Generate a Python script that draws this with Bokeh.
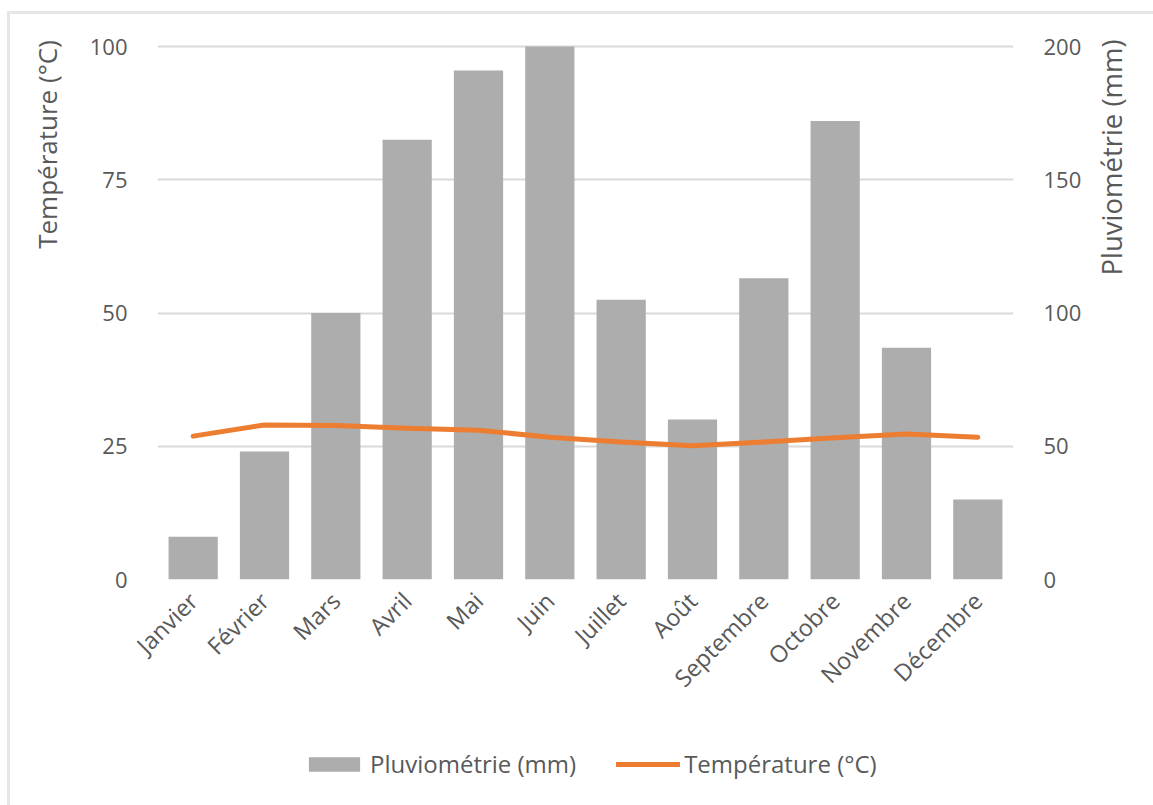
import math
from bokeh.plotting import figure
from bokeh.layouts import row, column
from bokeh.models import (ColumnDataSource, FactorRange, Range1d, LinearAxis,
                          FixedTicker, Legend, LegendItem)
from bokeh.core.properties import value
from bokeh.embed import file_html
from bokeh.resources import INLINE

# Monthly climate normals
months = ["Janvier", "Février", "Mars", "Avril", "Mai", "Juin", "Juillet",
          "Août", "Septembre", "Octobre", "Novembre", "Décembre"]
rain_mm = [16, 48, 100, 165, 191, 200, 105, 60, 113, 172, 87, 30]
temp_c = [26.9, 29.0, 28.9, 28.4, 28.0, 26.7, 25.8, 25.1, 25.8, 26.6, 27.3, 26.7]
temp_ticks = [0, 25, 50, 75, 100]
rain_ticks = [0, 50, 100, 150, 200]
temp_title = "Température (°C)"
rain_title = "Pluviométrie (mm)"

FONT = "Open Sans"
TEXT = "#595959"
GRID = "#D9D9D9"
BAR = "#ADADAD"
LINE = "#ED7D31"

MAIN_W, MAIN_H = 1020, 716
SIDE_L, SIDE_R = 60, 63
LEG_H = 75
BOTTOM = 151                 # room for the slanted month names
FRAME_H = MAIN_H - BOTTOM    # plot frame runs to the very top of the figure
HEADROOM = FRAME_H / (FRAME_H - 32)   # blank band above the top gridline


def blank(width, height, x_range=None, y_range=None):
    f = figure(width=width, height=height, output_backend="svg", toolbar_location=None,
               x_range=x_range or Range1d(0, width), y_range=y_range or Range1d(0, height),
               x_axis_type=None, y_axis_type=None, min_border=0)
    f.outline_line_color = None
    f.grid.visible = False
    return f


# ---- main chart -------------------------------------------------------------
src = ColumnDataSource(dict(month=months, rain=rain_mm, temp=temp_c))

p = figure(width=MAIN_W, height=MAIN_H, output_backend="svg", toolbar_location=None,
           x_range=FactorRange(*months, range_padding=0),
           y_range=Range1d(0, temp_ticks[-1] * HEADROOM),
           min_border_left=87, min_border_right=77,
           min_border_top=0, min_border_bottom=BOTTOM)
p.outline_line_color = None
p.extra_y_ranges = {"rain": Range1d(0, rain_ticks[-1] * HEADROOM)}

bars = p.vbar(x="month", top="rain", width=0.69, source=src, y_range_name="rain",
              fill_color=BAR, line_color=None)
line = p.line(x="month", y="temp", source=src, line_color=LINE, line_width=5,
              line_join="round", line_cap="round")

p.xgrid.grid_line_color = None
p.ygrid.grid_line_color = GRID
p.ygrid.grid_line_width = 2
p.yaxis.ticker = FixedTicker(ticks=temp_ticks)

ra = LinearAxis(y_range_name="rain", ticker=FixedTicker(ticks=rain_ticks))
p.add_layout(ra, "right")

for ax in (p.yaxis[0], ra, p.xaxis[0]):
    ax.axis_line_color = None
    ax.major_tick_line_color = None
    ax.minor_tick_line_color = None
    ax.major_label_text_font = FONT
    ax.major_label_text_font_size = "22px"
    ax.major_label_text_color = TEXT
p.yaxis[0].major_label_standoff = 24
ra.major_label_standoff = 24
p.xaxis[0].major_label_orientation = math.pi / 4
p.xaxis[0].major_label_standoff = 11
p.xaxis[0].major_label_text_font_size = "23.5px"

# ---- axis titles (vertical, reading upwards) ----------------------------------
# side strips share the main frame's vertical extent, one unit per pixel
left = blank(SIDE_L, MAIN_H, y_range=Range1d(0, FRAME_H))
left.text(x=[36], y=[FRAME_H - 130], text=[temp_title], angle=math.pi / 2,
          text_align="center", text_baseline="middle",
          text_font=value(FONT), text_font_size="26px", text_color=TEXT)

right = blank(SIDE_R, MAIN_H, y_range=Range1d(0, FRAME_H))
right.text(x=[21], y=[FRAME_H - 143], text=[rain_title], angle=math.pi / 2,
           text_align="center", text_baseline="middle",
           text_font=value(FONT), text_font_size="27.5px", text_color=TEXT)

# ---- legend strip ---------------------------------------------------------------
# Same series, drawn on a y window far above the data, so only the keys show.
leg = blank(SIDE_L + MAIN_W + SIDE_R, LEG_H,
            x_range=FactorRange(*months), y_range=Range1d(1000, 2000))
lb = leg.vbar(x="month", top="rain", width=0.69, source=src,
              fill_color=BAR, line_color=None)
ll = leg.line(x="month", y="temp", source=src, line_color=LINE, line_width=5,
              line_cap="round")
legend = Legend(items=[LegendItem(label=rain_title, renderers=[lb]),
                       LegendItem(label=temp_title, renderers=[ll])],
                orientation="horizontal", location=(292, 25),
                glyph_width=64, glyph_height=18, label_standoff=4, spacing=40,
                padding=0, margin=0, border_line_color=None,
                background_fill_alpha=0,
                label_text_font=FONT, label_text_font_size="24px",
                label_text_color=TEXT, label_height=20)
leg.add_layout(legend, "center")

layout = column(row(left, p, right), leg)
layout.styles = {"border-top": "3px solid #E6E6E6", "border-left": "3px solid #E6E6E6",
                 "margin-left": "7px", "margin-top": "11px"}

open("out.html", "w").write(file_html(layout, INLINE))
